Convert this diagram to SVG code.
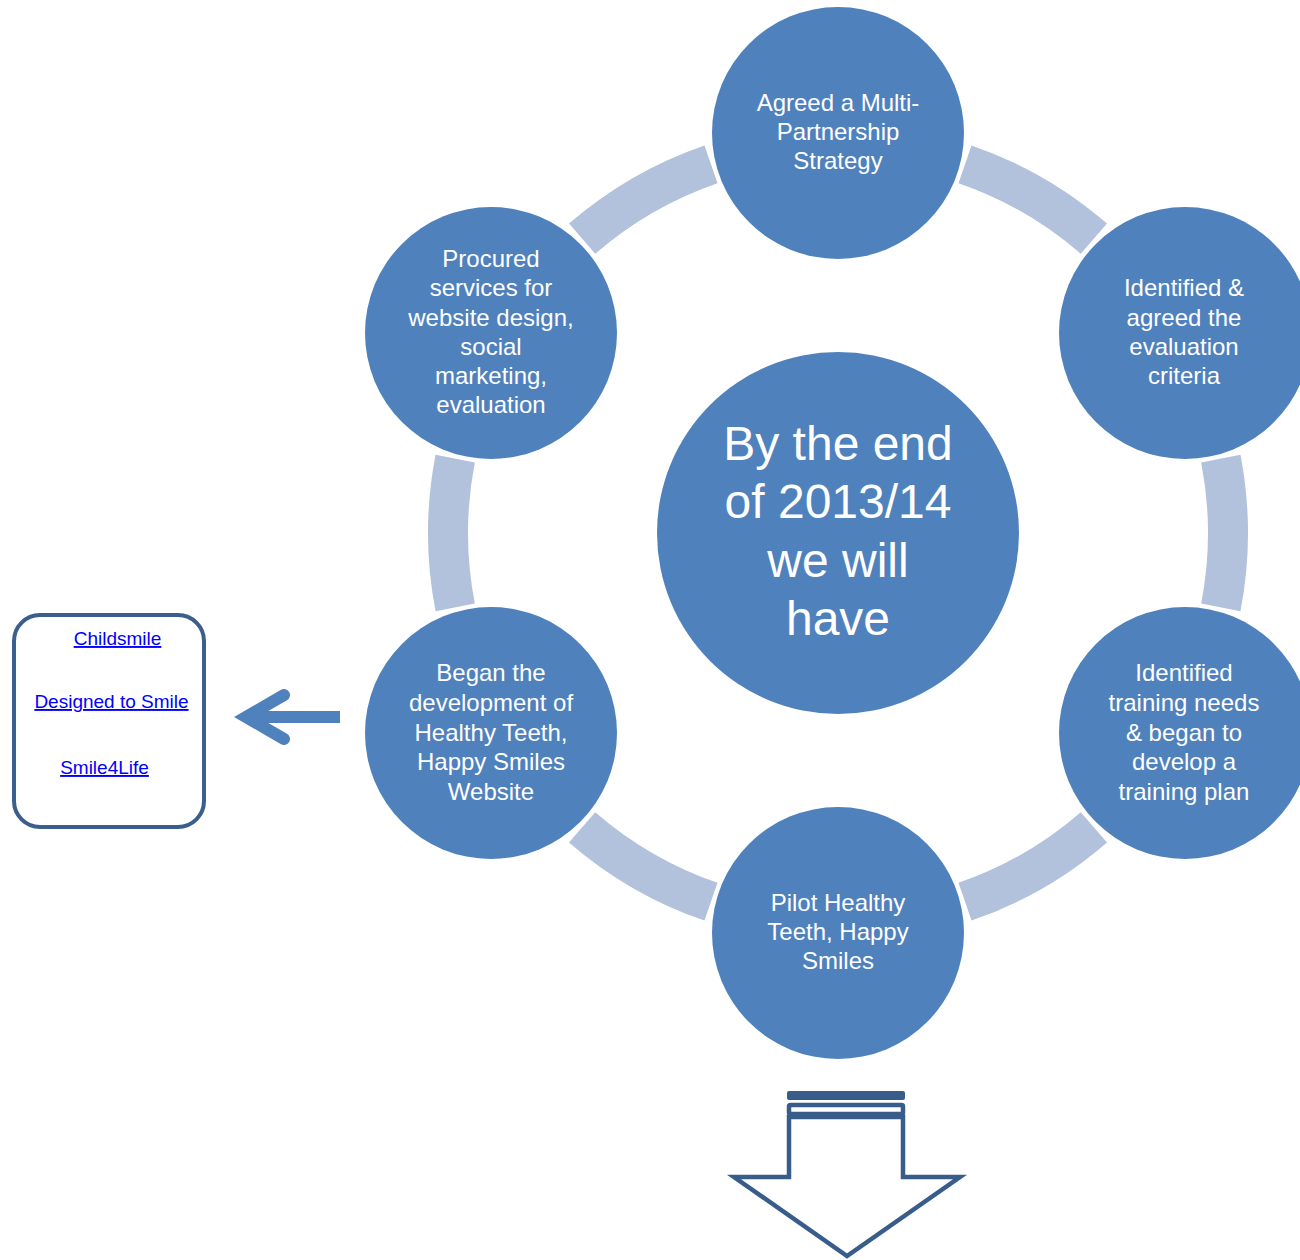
<svg xmlns="http://www.w3.org/2000/svg" width="1300" height="1260" viewBox="0 0 1300 1260">
<defs>
<style>
.node{fill:#4F81BD;}
.ring{fill:none;stroke:#B2C1DC;stroke-width:40;stroke-linecap:butt;}
.t{font-family:"Liberation Sans",Arial,sans-serif;fill:#FFFFFF;text-anchor:middle;font-size:24px;}
.big{font-size:48px;}
.link{font-family:"Liberation Sans",Arial,sans-serif;fill:#0000FF;text-anchor:middle;font-size:19px;text-decoration:underline;}
.dark{stroke:#385D8A;}
</style>
</defs>
<rect width="1300" height="1260" fill="#FFFFFF"/>
<g id="connectors">
<path class="ring" d="M965.0,164.3 A390,390 0 0 1 1093.9,238.7"/>
<path class="ring" d="M1220.8,458.6 A390,390 0 0 1 1220.8,607.4"/>
<path class="ring" d="M1093.9,827.3 A390,390 0 0 1 965.0,901.7"/>
<path class="ring" d="M711.0,901.7 A390,390 0 0 1 582.1,827.3"/>
<path class="ring" d="M455.2,607.4 A390,390 0 0 1 455.2,458.6"/>
<path class="ring" d="M582.1,238.7 A390,390 0 0 1 711.0,164.3"/>
<g id="left-arrow" fill="none" stroke="#4F81BD" stroke-width="12">
<line x1="255" y1="717" x2="340" y2="717" stroke-linecap="butt"/>
<polyline points="284,695 246,717 284,739" stroke-linecap="round" stroke-linejoin="miter" stroke-miterlimit="10"/>
</g>
<g id="down-arrow" class="dark" fill="#FFFFFF" stroke-width="4.5" stroke-linejoin="miter">
<rect x="787" y="1091" width="118" height="9" rx="2" fill="#385D8A" stroke="none"/>
<rect x="789" y="1105" width="114" height="9" rx="1.5"/>
<path d="M789,1117 V1177 H734 L847,1256 L960,1177 H903 V1117 Z"/>
</g>
</g>
<g id="center">
<circle class="node" cx="838" cy="533" r="181"/>
<text class="t big" x="838" y="460">By the end</text>
<text class="t big" x="838" y="518">of 2013/14</text>
<text class="t big" x="838" y="577">we will</text>
<text class="t big" x="838" y="635">have</text>
</g>
<g id="node-top">
<circle class="node" cx="838" cy="133" r="126"/>
<text class="t" x="838" y="111">Agreed a Multi-</text>
<text class="t" x="838" y="140">Partnership</text>
<text class="t" x="838" y="169">Strategy</text>
</g>
<g id="node-upper-right">
<circle class="node" cx="1185" cy="333" r="126"/>
<text class="t" x="1184" y="296">Identified &amp;</text>
<text class="t" x="1184" y="326">agreed the</text>
<text class="t" x="1184" y="355">evaluation</text>
<text class="t" x="1184" y="384">criteria</text>
</g>
<g id="node-lower-right">
<circle class="node" cx="1185" cy="733" r="126"/>
<text class="t" x="1184" y="681">Identified</text>
<text class="t" x="1184" y="711">training needs</text>
<text class="t" x="1184" y="741">&amp; began to</text>
<text class="t" x="1184" y="770">develop a</text>
<text class="t" x="1184" y="800">training plan</text>
</g>
<g id="node-bottom">
<circle class="node" cx="838" cy="933" r="126"/>
<text class="t" x="838" y="911">Pilot Healthy</text>
<text class="t" x="838" y="940">Teeth, Happy</text>
<text class="t" x="838" y="969">Smiles</text>
</g>
<g id="node-lower-left">
<circle class="node" cx="491" cy="733" r="126"/>
<text class="t" x="491" y="681">Began the</text>
<text class="t" x="491" y="711">development of</text>
<text class="t" x="491" y="741">Healthy Teeth,</text>
<text class="t" x="491" y="770">Happy Smiles</text>
<text class="t" x="491" y="800">Website</text>
</g>
<g id="node-upper-left">
<circle class="node" cx="491" cy="333" r="126"/>
<text class="t" x="491" y="267">Procured</text>
<text class="t" x="491" y="296">services for</text>
<text class="t" x="491" y="326">website design,</text>
<text class="t" x="491" y="355">social</text>
<text class="t" x="491" y="384">marketing,</text>
<text class="t" x="491" y="413">evaluation</text>
</g>
<g id="links-box">
<rect x="14" y="615" width="190" height="212" rx="26" fill="#FFFFFF" stroke="#3B5F8C" stroke-width="4"/>
<text class="link" x="117.5" y="645">Childsmile</text>
<text class="link" x="111.5" y="708">Designed to Smile</text>
<text class="link" x="104.5" y="774">Smile4Life</text>
</g>
</svg>
